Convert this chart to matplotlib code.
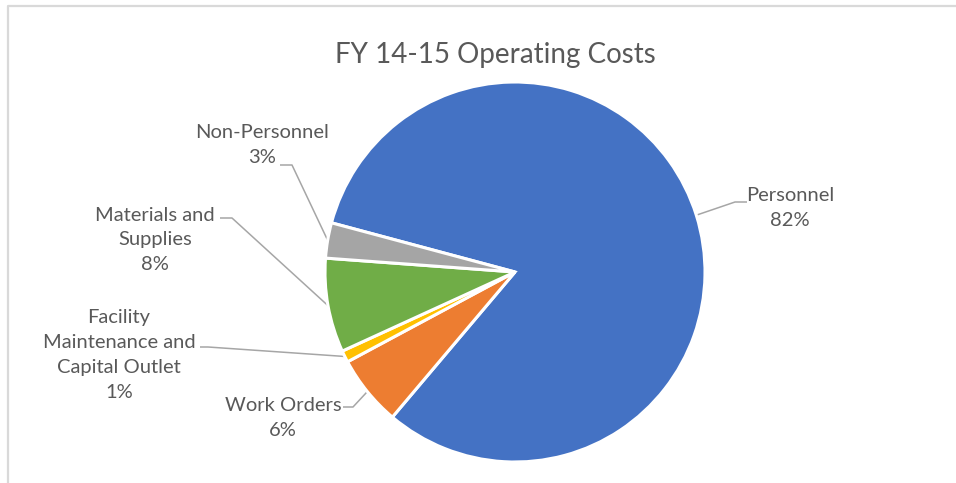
import numpy as np
import matplotlib
matplotlib.use("Agg")
import matplotlib.pyplot as plt

# Datos del gráfico
categorias = ["Personnel", "Work Orders", "Facility\nMaintenance and\nCapital Outlet",
              "Materials and\nSupplies", "Non-Personnel"]
porcentajes = [82, 6, 1, 8, 3]
colores = ["#4472C4", "#ED7D31", "#FFC000", "#70AD47", "#A5A5A5"]
titulo = "FY 14-15 Operating Costs"

W, H = 956, 483
# posiciones de las etiquetas (px, desde arriba) y punto de la línea guía junto al texto
pos_etiquetas = [(790, 208), (283, 418), (119, 355), (155, 240), (262, 145)]
codo_guia = [(747, 735, 202), (343, 353, 407), (200, 208, 347), (220, 232, 218), (280, 292, 165)]

gris_texto = "#595959"
plt.rcParams['font.family'] = ['Lato', 'DejaVu Sans']

fig = plt.figure(figsize=(W / 100, H / 100), dpi=100)
ax = fig.add_axes([0, 0, 1, 1])

cx, cy, r = 515, H - 272, 190
wedges, _ = ax.pie(porcentajes, colors=colores, startangle=165, counterclock=False,
                   center=(cx, cy), radius=r,
                   wedgeprops=dict(edgecolor="white", linewidth=2.2))

ax.set_xlim(0, W)
ax.set_ylim(0, H)
ax.set_aspect("equal")
ax.axis("off")

for w, cat, val, (lx, ly), (x0, x1, yg) in zip(wedges, categorias, porcentajes,
                                                pos_etiquetas, codo_guia):
    ang = np.deg2rad((w.theta1 + w.theta2) / 2)
    px, py = cx + r * np.cos(ang), cy + r * np.sin(ang)
    ax.plot([x0, x1, px], [H - yg, H - yg, py], color="#A6A6A6", lw=1.1,
            solid_capstyle="butt", zorder=0)
    ax.text(lx, H - ly, f"{cat}\n{val}%", ha="center", va="center",
            fontsize=14.5, color=gris_texto, linespacing=1.55)

ax.text(495, H - 55, titulo, ha="center", va="center", fontsize=20, color=gris_texto)

# marco del área del gráfico
ax.plot([8, 8, W], [0, H - 6, H - 6], color="#D9D9D9", lw=1.6, clip_on=False)

fig.savefig("out.png", dpi=100)
